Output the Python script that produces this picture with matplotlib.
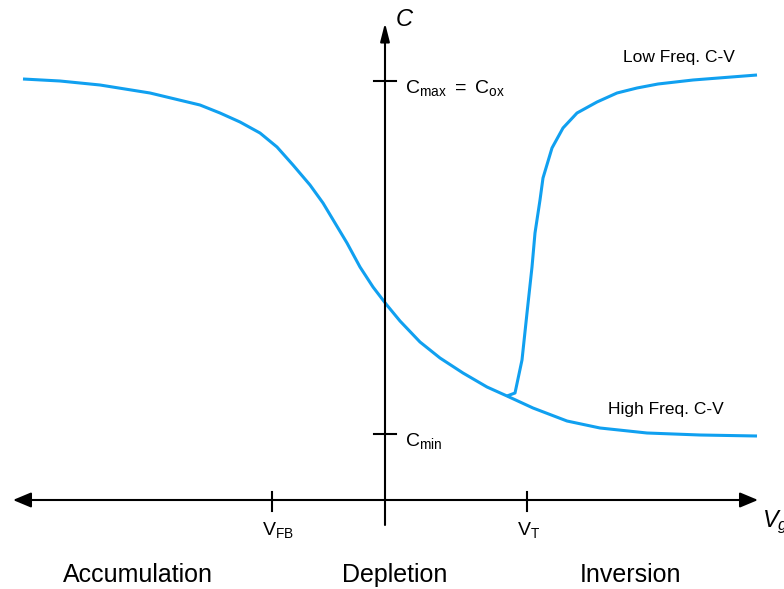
import matplotlib
matplotlib.use("Agg")
import matplotlib.pyplot as plt

plt.rcParams['font.family'] = ['Liberation Sans', 'DejaVu Sans']
plt.rcParams['mathtext.fontset'] = 'custom'
plt.rcParams['mathtext.rm'] = 'Liberation Sans'
plt.rcParams['mathtext.it'] = 'Liberation Sans:italic'

# high frequency C-V curve (gate voltage, capacitance), arbitrary units
hf_vg = [-3.62, -3.25, -2.85, -2.35, -1.85, -1.65, -1.45, -1.25, -1.08, -0.92,
         -0.75, -0.62, -0.50, -0.38, -0.25, -0.12, 0.01, 0.15, 0.35, 0.55,
         0.78, 1.02, 1.22, 1.48, 1.82, 2.15, 2.62, 3.15, 3.72]
hf_c = [4.21, 4.19, 4.15, 4.07, 3.95, 3.87, 3.78, 3.67, 3.53, 3.35,
        3.15, 2.97, 2.77, 2.57, 2.33, 2.13, 1.96, 1.79, 1.58, 1.42,
        1.27, 1.13, 1.04, 0.92, 0.79, 0.72, 0.67, 0.65, 0.64]

# low frequency branch, splitting off near threshold
lf_vg = [1.22, 1.30, 1.37, 1.42, 1.47, 1.50, 1.55, 1.58, 1.67, 1.78,
         1.92, 2.12, 2.32, 2.52, 2.73, 3.08, 3.72]
lf_c = [1.04, 1.07, 1.40, 1.87, 2.33, 2.67, 3.00, 3.22, 3.52, 3.72,
        3.87, 3.98, 4.07, 4.12, 4.16, 4.20, 4.25]

# tick positions and labels on both axes
vg_ticks = [-1.13, 1.42]
vg_labels = [r'$\mathregular{V_{FB}}$', r'$\mathregular{V_{T}}$']
c_ticks = [4.19, 0.66]
c_labels = [r'$\mathregular{C_{max}\ =\ C_{ox}}$', r'$\mathregular{C_{min}}$']

regions = ['Accumulation', 'Depletion', 'Inversion']
region_x = [-2.47, 0.10, 2.45]

blue = '#10a0f0'

fig = plt.figure(figsize=(7.84, 5.89), dpi=100)
ax = fig.add_axes([0, 0, 1, 1])
ax.set_xlim(-3.85, 3.99)
ax.set_ylim(-0.89, 5.0)
ax.axis('off')

# axes drawn as arrows
ax.annotate('', xy=(-3.72, 0), xytext=(3.73, 0),
            arrowprops=dict(arrowstyle='<|-|>,head_length=0.55,head_width=0.23',
                            mutation_scale=20, lw=1.5, color='black',
                            shrinkA=0, shrinkB=0))
ax.annotate('', xy=(0, 4.77), xytext=(0, -0.25),
            arrowprops=dict(arrowstyle='-|>,head_length=0.55,head_width=0.14',
                            mutation_scale=20, lw=1.5, color='black',
                            shrinkA=0, shrinkB=0))

for x, lab in zip(vg_ticks, vg_labels):
    ax.plot([x, x], [-0.11, 0.08], color='black', lw=1.5)
    ax.text(x - 0.10, -0.35, lab, fontsize=14, ha='left', va='baseline')

for y, lab in zip(c_ticks, c_labels):
    ax.plot([-0.11, 0.11], [y, y], color='black', lw=1.5)
    ax.text(0.20, y - 0.12, lab, fontsize=14, ha='left', va='baseline')

ax.text(0.11, 4.80, 'C', fontsize=17, style='italic', ha='left', va='center')
ax.text(3.77, -0.27, r'$V_g$', fontsize=17, ha='left', va='baseline')

# the two curves
ax.plot(hf_vg, hf_c, color=blue, lw=2.2, solid_capstyle='butt',
        solid_joinstyle='round')
ax.plot(lf_vg, lf_c, color=blue, lw=2.2, solid_capstyle='butt',
        solid_joinstyle='round')

ax.text(2.38, 4.38, 'Low Freq. C-V', fontsize=12.5, ha='left', va='baseline')
ax.text(2.23, 0.86, 'High Freq. C-V', fontsize=12.5, ha='left', va='baseline')

for x, name in zip(region_x, regions):
    ax.text(x, -0.82, name, fontsize=18, ha='center', va='baseline')

fig.savefig('out.png', dpi=100)
